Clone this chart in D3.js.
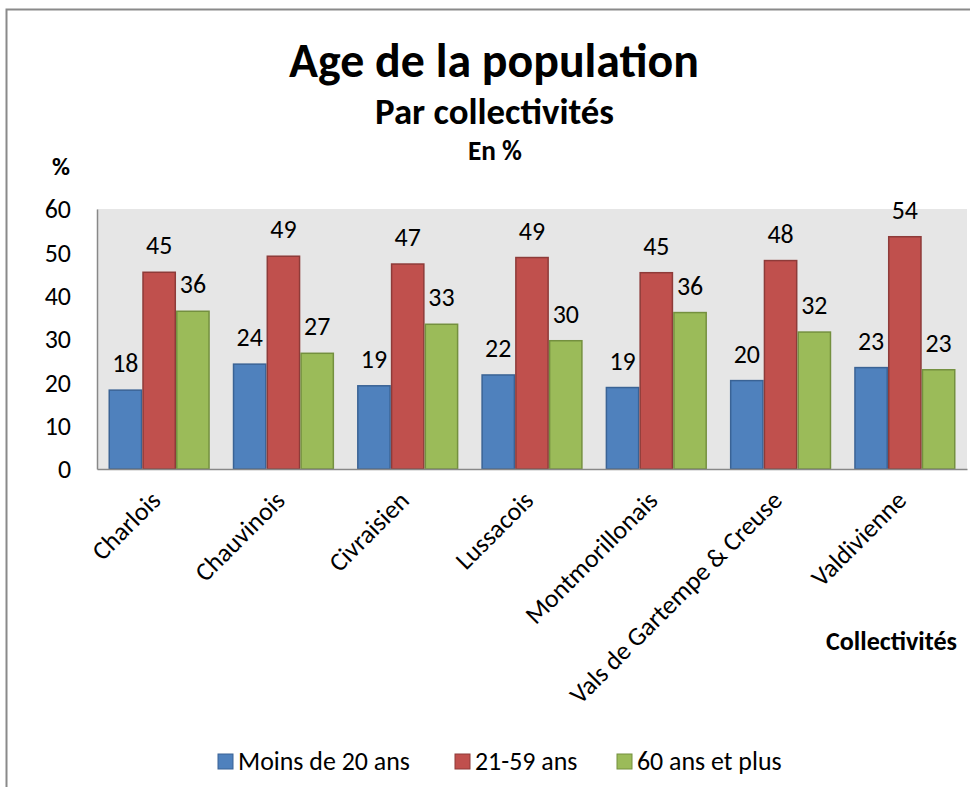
<!DOCTYPE html>
<html>
<head>
<meta charset="utf-8">
<script src="https://cdn.jsdelivr.net/npm/d3@7"></script>
<style>
  html, body { margin: 0; padding: 0; background: #fff; }
  svg { display: block; }
  text { font-family: Carlito, Calibri, Lato, "Open Sans", sans-serif; fill: #000; }
</style>
</head>
<body>
<svg id="chart" width="970" height="787"></svg>
<script>
const categories = ["Charlois", "Chauvinois", "Civraisien", "Lussacois", "Montmorillonais", "Vals de Gartempe & Creuse", "Valdivienne"];
const seriesNames = ["Moins de 20 ans", "21-59 ans", "60 ans et plus"];
const moins20 = [18.2, 24.2, 19.2, 21.7, 18.8, 20.4, 23.4];
const ans21_59 = [45.4, 49.1, 47.3, 48.8, 45.3, 48.1, 53.6];
const plus60 = [36.4, 26.7, 33.4, 29.6, 36.1, 31.6, 22.9];
const yTicks = [0, 10, 20, 30, 40, 50, 60];
const titleText = "Age de la population";
const subtitleText = "Par collectivités";
const unitText = "En %";
const yAxisTitle = "%";
const xAxisTitle = "Collectivités";

const seriesValues = [moins20, ans21_59, plus60];
const fills = ["#4f81bd", "#c0504d", "#9bbb59"];
const strokes = ["#3a6395", "#8e3b39", "#74903f"];

const svg = d3.select("#chart");

// outer chart border
svg.append("rect")
  .attr("x", 6.5).attr("y", 9.5)
  .attr("width", 1000).attr("height", 1000)
  .attr("fill", "none").attr("stroke", "#8a8a8a").attr("stroke-width", 2);

const plot = { left: 97, right: 967, top: 209, bottom: 469 };

const x0 = d3.scaleBand().domain(categories)
  .range([plot.left, plot.right])
  .paddingInner(0.185).paddingOuter(0.0925);
const x1 = d3.scaleBand().domain(d3.range(seriesNames.length))
  .range([0, x0.bandwidth()]).padding(0);
const y = d3.scaleLinear().domain([0, 60]).range([plot.bottom, plot.top]);

// plot background
svg.append("rect")
  .attr("x", plot.left).attr("y", plot.top)
  .attr("width", plot.right - plot.left).attr("height", plot.bottom - plot.top)
  .attr("fill", "#e6e6e6");

// helper to fit text to a width
function fit(sel, target) {
  const node = sel.node();
  const fs = parseFloat(sel.attr("font-size"));
  const w = node.getComputedTextLength();
  if (w > 0) sel.attr("font-size", (fs * target / w).toFixed(2));
  return sel;
}

// base font size measured from legend text
const probe = svg.append("text").attr("font-size", 24).text(seriesNames[0]);
const baseFs = 24 * 172 / probe.node().getComputedTextLength();
probe.remove();

// bars
const groups = svg.append("g").selectAll("g")
  .data(categories).join("g")
  .attr("transform", d => `translate(${x0(d)},0)`);

groups.selectAll("rect")
  .data((d, i) => seriesValues.map((s, k) => ({ k, v: s[i] })))
  .join("rect")
  .attr("x", d => x1(d.k) + 0.75)
  .attr("width", x1.bandwidth() - 1.5)
  .attr("y", d => y(d.v))
  .attr("height", d => y(0) - y(d.v))
  .attr("fill", d => fills[d.k])
  .attr("stroke", d => strokes[d.k])
  .attr("stroke-width", 1.5);

groups.selectAll("text")
  .data((d, i) => seriesValues.map((s, k) => ({ k, v: s[i] })))
  .join("text")
  .attr("x", d => x1(d.k) + x1.bandwidth() / 2)
  .attr("y", d => y(d.v) - 18)
  .attr("text-anchor", "middle")
  .attr("font-size", baseFs)
  .text(d => Math.round(d.v));

// axes lines
const axisColor = "#888888";
const yAxis = d3.axisLeft(y).tickValues(yTicks).tickSize(0).tickPadding(0).tickFormat(d3.format("d"));
const gy = svg.append("g").attr("transform", `translate(${plot.left},0)`).call(yAxis);
gy.select(".domain").attr("stroke", axisColor).attr("stroke-width", 1.5);
gy.selectAll(".tick text")
  .attr("x", 71 - plot.left).attr("dy", "0.34em")
  .attr("text-anchor", "end")
  .attr("font-size", baseFs)
  .attr("font-family", null)
  .attr("fill", "#000");

const xAxis = d3.axisBottom(x0).tickSize(0).tickFormat("");
const gx = svg.append("g").attr("transform", `translate(0,${plot.bottom})`).call(xAxis);
gx.select(".domain").attr("stroke", axisColor).attr("stroke-width", 1.5);

// x category labels rotated
svg.append("g").selectAll("text")
  .data(categories).join("text")
  .attr("transform", d => `translate(${x0(d) + x0.bandwidth() / 2 + 3},${plot.bottom + 33}) rotate(-45)`)
  .attr("text-anchor", "end")
  .attr("font-size", baseFs)
  .text(d => d);

// titles
fit(svg.append("text").attr("x", 494).attr("y", 77).attr("text-anchor", "middle")
  .attr("font-weight", "bold").attr("font-size", 40).text(titleText), 410);
fit(svg.append("text").attr("x", 494.5).attr("y", 124).attr("text-anchor", "middle")
  .attr("font-weight", "bold").attr("font-size", 28).text(subtitleText), 239);
fit(svg.append("text").attr("x", 495).attr("y", 160).attr("text-anchor", "middle")
  .attr("font-weight", "bold").attr("font-size", 20).text(unitText), 54);
fit(svg.append("text").attr("x", 52).attr("y", 175).attr("text-anchor", "start")
  .attr("font-weight", "bold").attr("font-size", 20).text(yAxisTitle), 18);
fit(svg.append("text").attr("x", 957).attr("y", 650).attr("text-anchor", "end")
  .attr("font-weight", "bold").attr("font-size", 20).text(xAxisTitle), 131);

// legend
const legendItems = [
  { name: seriesNames[0], sx: 218 },
  { name: seriesNames[1], sx: 455 },
  { name: seriesNames[2], sx: 617 }
];
const lg = svg.append("g");
legendItems.forEach((it, k) => {
  lg.append("rect")
    .attr("x", it.sx).attr("y", 754)
    .attr("width", 15).attr("height", 15)
    .attr("fill", fills[k]).attr("stroke", strokes[k]).attr("stroke-width", 1);
  lg.append("text")
    .attr("x", it.sx + 20).attr("y", 770)
    .attr("font-size", baseFs)
    .text(it.name);
});
</script>
</body>
</html>
